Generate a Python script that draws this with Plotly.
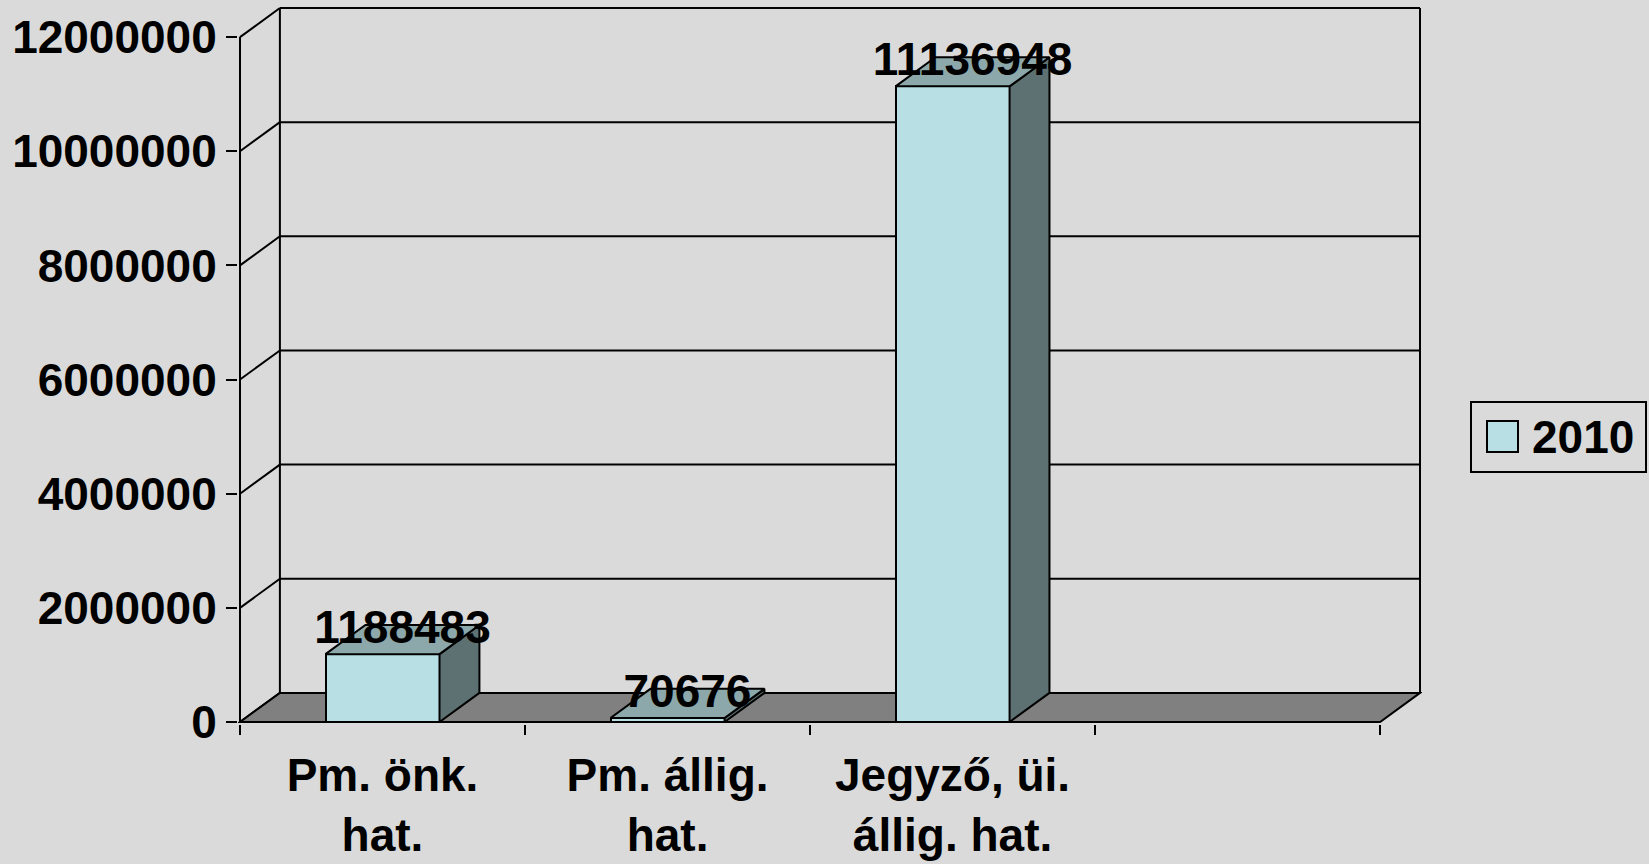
import plotly.graph_objects as go

# ---------------- data ----------------
categories = ["Pm. önk.<br>hat.", "Pm. állig.<br>hat.", "Jegyző, üi.<br>állig. hat.", ""]
values_2010 = [1188483, 70676, 11136948]
series_name = "2010"
y_ticks = [0, 2000000, 4000000, 6000000, 8000000, 10000000, 12000000]
y_tick_labels = ["0", "2000000", "4000000", "6000000", "8000000", "10000000", "12000000"]

# ---------------- style ----------------
FONT = "Liberation Sans"
FS = 46
BG = "#DADADA"
FRONT = "#B8E0E4"
TOP = "#8CA8AB"
SIDE = "#5D7072"
FLOOR = "#808080"
LINE = "black"

N = len(categories)
BAR_W = 0.4
DX = 0.14          # depth offset (category units)
DY = 510000        # depth offset (value units)
PAD_X = 0.007
PAD_Y = 35000
YMAX = y_ticks[-1]
LABEL_LIFT = 140000

# plot-area pixel geometry (for the hand-made legend)
L, R, T, B = 238, 1422, 6, 724
W, H = 1649, 864
def px(x):
    return (x - L) / (R - L)
def py(y):
    return (B - y) / (B - T)

fig = go.Figure()

centers = [i + 0.5 for i in range(N)]
bar_x = centers[:len(values_2010)]

# front faces
fig.add_trace(go.Bar(
    x=bar_x, y=values_2010, width=BAR_W, name=series_name,
    marker=dict(color=FRONT, line=dict(color=LINE, width=2)),
    showlegend=False, hoverinfo="skip"))

# side and top faces
for c, v in zip(bar_x, values_2010):
    x0, x1 = c - BAR_W / 2, c + BAR_W / 2
    fig.add_trace(go.Scatter(
        x=[x1, x1 + DX, x1 + DX, x1, x1], y=[0, DY, v + DY, v, 0],
        mode="lines", fill="toself", fillcolor=SIDE,
        line=dict(color=LINE, width=2), showlegend=False, hoverinfo="skip"))
    fig.add_trace(go.Scatter(
        x=[x0, x1, x1 + DX, x0 + DX, x0], y=[v, v, v + DY, v + DY, v],
        mode="lines", fill="toself", fillcolor=TOP,
        line=dict(color=LINE, width=2), showlegend=False, hoverinfo="skip"))

# data labels
fig.add_trace(go.Scatter(
    x=[c + DX / 2 for c in bar_x],
    y=[v + DY / 2 + LABEL_LIFT for v in values_2010],
    text=[str(v) for v in values_2010], mode="text",
    textposition="middle center",
    textfont=dict(family=FONT, size=FS, color="black", weight="bold"),
    cliponaxis=False, showlegend=False, hoverinfo="skip"))

# walls, floor (shapes below traces)
shapes = []
for t in y_ticks:
    shapes.append(dict(type="line", xref="x", yref="y", x0=DX, y0=t + DY, x1=N + DX, y1=t + DY,
                       line=dict(color=LINE, width=2), layer="below"))
    shapes.append(dict(type="line", xref="x", yref="y", x0=0, y0=t, x1=DX, y1=t + DY,
                       line=dict(color=LINE, width=2), layer="below"))
shapes.append(dict(type="line", xref="x", yref="y", x0=DX, y0=DY, x1=DX, y1=YMAX + DY,
                   line=dict(color=LINE, width=2), layer="below"))
shapes.append(dict(type="line", xref="x", yref="y", x0=N + DX, y0=DY, x1=N + DX, y1=YMAX + DY,
                   line=dict(color=LINE, width=2), layer="below"))
shapes.append(dict(type="line", xref="x", yref="y", x0=0, y0=0, x1=0, y1=YMAX,
                   line=dict(color=LINE, width=2), layer="below"))
shapes.append(dict(type="path", xref="x", yref="y",
                   path=f"M 0,0 L {N},0 L {N + DX},{DY} L {DX},{DY} Z",
                   fillcolor=FLOOR, line=dict(color=LINE, width=2), layer="below"))

# hand-made legend
shapes.append(dict(type="rect", xref="paper", yref="paper",
                   x0=px(1471), x1=px(1646), y0=py(472), y1=py(402),
                   line=dict(color=LINE, width=2), fillcolor="rgba(0,0,0,0)"))
shapes.append(dict(type="rect", xref="paper", yref="paper",
                   x0=px(1487), x1=px(1518), y0=py(452), y1=py(421),
                   line=dict(color=LINE, width=2), fillcolor=FRONT))

fig.update_layout(
    width=W, height=H,
    margin=dict(l=L, r=W - R, t=T, b=H - B, pad=0),
    paper_bgcolor=BG, plot_bgcolor=BG,
    font=dict(family=FONT, size=FS, color="black", weight="bold"),
    showlegend=False,
    shapes=shapes,
    annotations=[dict(xref="paper", yref="paper", x=px(1530), y=py(437),
                      xanchor="left", yanchor="middle", showarrow=False,
                      text=series_name,
                      font=dict(family=FONT, size=FS, color="black", weight="bold"))],
    bargap=0,
)

fig.update_xaxes(
    range=[-PAD_X, N + DX + PAD_X],
    tickmode="array", tickvals=centers, ticktext=categories,
    ticks="", showgrid=False, zeroline=False, showline=False,
    tickfont=dict(family=FONT, size=FS, color="black", weight="bold"),
    ticklabelstandoff=20, automargin=False,
    minor=dict(tickmode="array", tickvals=list(range(N + 1)), ticks="outside",
               ticklen=10, tickwidth=2, tickcolor=LINE, showgrid=False),
)
fig.update_yaxes(
    range=[-PAD_Y, YMAX + DY + PAD_Y],
    tickmode="array", tickvals=y_ticks, ticktext=y_tick_labels,
    ticks="outside", ticklen=11, tickwidth=2, tickcolor=LINE,
    showgrid=False, zeroline=False, showline=False,
    tickfont=dict(family=FONT, size=FS, color="black", weight="bold"),
    ticklabelstandoff=0, automargin=False,
)

fig.write_html(
    "out.html",
    config={"displayModeBar": False},
    post_script="document.body.style.margin='0';document.body.style.overflow='hidden';",
)
